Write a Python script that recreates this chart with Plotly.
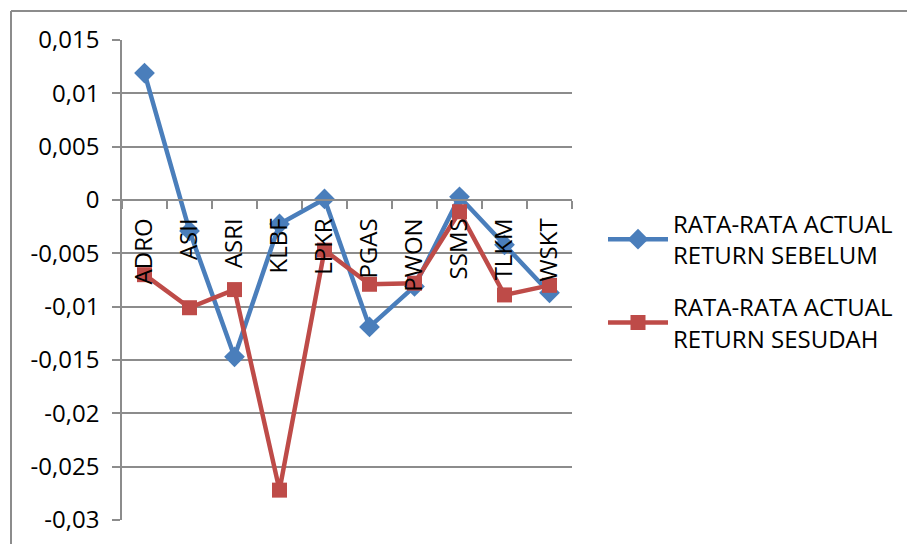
import plotly.graph_objects as go

categories = ["ADRO", "ASII", "ASRI", "KLBF", "LPKR", "PGAS", "PWON", "SSMS", "TLKM", "WSKT"]
sebelum = [0.0119, -0.0029, -0.0147, -0.00225, 0.0001, -0.0119, -0.0081, 0.0003, -0.0042, -0.0087]
sesudah = [-0.0070, -0.0101, -0.0084, -0.0272, -0.0047, -0.0079, -0.0078, -0.0011, -0.0089, -0.0080]
y_ticks = [0.015, 0.01, 0.005, 0, -0.005, -0.01, -0.015, -0.02, -0.025, -0.03]
y_labels = ["0,015", "0,01", "0,005", "0", "-0,005", "-0,01", "-0,015", "-0,02", "-0,025", "-0,03"]

FONT = "Open Sans"
BLUE = "#4a7ebb"
RED = "#be4b48"
GRID = "#8c8c8c"
FS = 24

fig = go.Figure()
fig.add_trace(go.Scatter(
    x=categories, y=sebelum, mode="lines+markers",
    name="RATA-RATA ACTUAL<br>RETURN SEBELUM", legendgroup="a",
    line=dict(color=BLUE, width=4.5),
    marker=dict(symbol="diamond", size=16, color=BLUE),
))
fig.add_trace(go.Scatter(
    x=categories, y=sesudah, mode="lines+markers",
    name="RATA-RATA ACTUAL<br>RETURN SESUDAH", legendgroup="b",
    line=dict(color=RED, width=4.5),
    marker=dict(symbol="square", size=15, color=RED),
))

W, H = 907, 544
L, R, T, B = 122, 335, 40, 24
ymin, ymax = -0.03, 0.015
zero_pos = (0 - ymin) / (ymax - ymin)
PW = W - L - R
PH = H - T - B

fig.update_layout(
    width=W, height=H,
    margin=dict(l=L, r=R, t=T, b=B, autoexpand=False),
    paper_bgcolor="white", plot_bgcolor="white",
    font=dict(family=FONT, size=FS, color="black"),
    showlegend=True,
    legend=dict(
        x=(603 - L) / PW, y=(H - B - 281) / PH, xanchor="left", yanchor="middle",
        font=dict(family=FONT, size=FS, color="black"),
        bgcolor="rgba(0,0,0,0)", tracegroupgap=18, itemwidth=60,
    ),
    xaxis=dict(
        type="category", anchor="free", position=zero_pos, automargin=False,
        showline=True, linecolor=GRID, linewidth=1.5,
        showgrid=False, zeroline=False,
        ticks="outside", ticklen=8, tickcolor=GRID, tickwidth=1.5,
        tickson="boundaries", tickangle=-90, ticklabelstandoff=8,
        tickfont=dict(family=FONT, size=FS, color="black"),
        range=[-0.5, 9.5],
    ),
    yaxis=dict(
        range=[ymin, ymax], tickvals=y_ticks, ticktext=y_labels, automargin=False,
        showline=True, linecolor=GRID, linewidth=1.5,
        showgrid=True, gridcolor=GRID, gridwidth=1.5,
        zeroline=False,
        ticks="outside", ticklen=8, tickcolor=GRID, tickwidth=1.5,
        ticklabelstandoff=8,
        tickfont=dict(family=FONT, size=FS, color="black"),
    ),
)

# outer frame (top and left edges)
fig.add_shape(type="line", xref="paper", yref="paper",
              x0=(11 - L) / PW, x1=(W - L) / PW,
              y0=(H - B - 11) / PH, y1=(H - B - 11) / PH,
              line=dict(color=GRID, width=2))
fig.add_shape(type="line", xref="paper", yref="paper",
              x0=(11 - L) / PW, x1=(11 - L) / PW,
              y0=(H - B - 11) / PH, y1=-B / PH,
              line=dict(color=GRID, width=2))

fig.write_html("out.html")
